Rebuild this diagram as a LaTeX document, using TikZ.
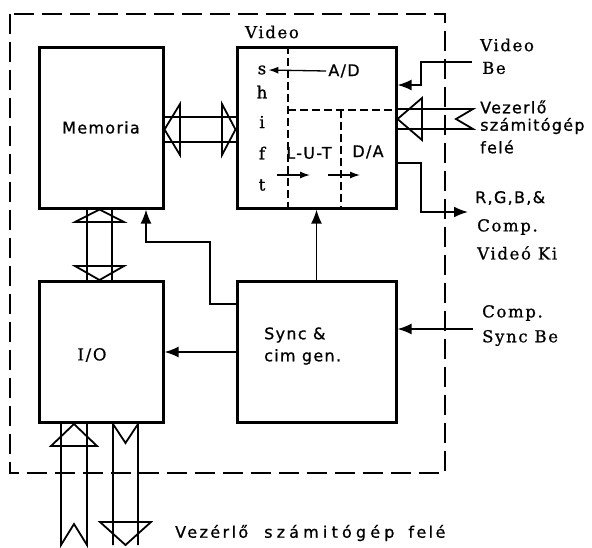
\documentclass[tikz,border=0pt]{standalone}
\usepackage{fontspec}
\usetikzlibrary{arrows.meta,calc}
\newfontfamily\lettering{DejaVu Sans}[LetterSpace=8, FakeBold=0.8]
\newfontfamily\wideletter{DejaVu Sans}[LetterSpace=15, FakeBold=0.8]
\newfontfamily\widerletter{DejaVu Sans}[LetterSpace=26, FakeBold=0.8]
\newfontfamily\printed{DejaVu Serif}[LetterSpace=10, FakeBold=0.8]

\begin{document}
\begin{tikzpicture}[
  x=1pt, y=-1pt,
  >={Latex[length=14pt,width=11pt]},
  every node/.style={font=\lettering\fontsize{16}{19}\selectfont, inner sep=2pt},
  serif/.style={font=\printed\fontsize{16.5}{19}\selectfont},
  block/.style={draw, line width=3pt, inner sep=0pt},
  sig/.style={->, line width=1.8pt},
  tiny/.style={-{Latex[length=10pt,width=7pt]}, line width=1.3pt},
  bus/.style={line width=1.8pt, line join=miter},
  frame/.style={line width=1.4pt, dash pattern=on 20pt off 8pt},
  inner/.style={line width=1.3pt, dash pattern=on 8pt off 4pt}
]
  \useasboundingbox (0,0) rectangle (592,547);

  % Outer dashed frame
  \draw[frame] (10,14) rectangle (445,473);

  % Blocks
  \node[block, minimum width=124pt, minimum height=161pt] (mem) at (101,127.5) {Memoria};
  \node[block, minimum width=159pt, minimum height=161pt] (vid) at (316.5,127.5) {};
  \node[block, minimum width=124pt, minimum height=141pt] (io) at (101,352) {};
  \node[block, minimum width=159pt, minimum height=141pt] (sync) at (316.5,352) {};
  \node[serif] (iotxt) at (92,355) {I/O};
  \node[anchor=west, align=left, font=\lettering\fontsize{16}{22}\selectfont] (synctxt) at (262,346) {Sync \&\\cim gen.};
  \node[serif] (vidlbl) at (272,32) {Video};

  % Inside the video block
  \draw[inner] (vid.north -| 288,0) -- (vid.south -| 288,0);
  \draw[inner] (288,110) -- (vid.east |- 0,110);
  \draw[inner] (341,110) -- (vid.south -| 341,0);
  \foreach \ch/\yy in {s/70, h/92, i/122, f/153, t/185}
    \node[serif] (l\ch) at (262,\yy) {\ch};
  \node (ad) at (344,71) {A/D};
  \node (lut) at (309,153) {L-U-T};
  \node (da) at (368,152) {D/A};
  \draw[tiny] (ad.west) -- (ls.east);
  \draw[tiny] (277,175) -- (310,175);
  \draw[tiny] (328,175) -- (360,175);

  % Memoria <-> Video bus
  \draw[bus] (mem.east |- 0,117) -- (vid.west |- 0,117)
             (mem.east |- 0,142) -- (vid.west |- 0,142);
  \draw[bus] (180,104) -- (mem.east |- 0,129.5) -- (180,155) -- cycle;
  \draw[bus] (222,104) -- (vid.west |- 0,129.5) -- (222,155) -- cycle;

  % Memoria <-> I/O bus
  \draw[bus] (mem.south -| 87,0) -- (io.north -| 87,0)
             (mem.south -| 112,0) -- (io.north -| 112,0);
  \draw[bus] (75,222) -- (mem.south -| 99.5,0) -- (124,222) -- cycle;
  \draw[bus] (75,266) -- (io.north -| 99.5,0) -- (124,266) -- cycle;

  % Host bus on the right
  \draw[bus] (vid.east |- 0,109) -- (473,109) -- (456,119) -- (473,129) -- (vid.east |- 0,129);
  \draw[bus] (422,98) -- (vid.east |- 0,119) -- (422,140) -- cycle;

  % Host buses below I/O
  \draw[bus] (io.south -| 61,0) -- (61,545) -- (74,524) -- (87,545) -- (io.south -| 87,0);
  \draw[bus] (51,446) -- (io.south -| 74,0) -- (97,446) -- cycle;
  \draw[bus] (113,545) -- (io.south -| 113,0) -- (125.5,443) -- (io.south -| 138,0) -- (138,545);
  \draw[bus] (100,522) -- (151,522) -- (125.5,545) -- cycle;

  % Signals from sync generator
  \draw[sig] (sync.north) -- (vid.south);
  \draw[sig] (sync.west) -- (io.east);
  \draw[sig] (sync.west |- 0,304) -| (210,242) -| (mem.south -| 146,0);

  % External signals
  \coordinate (vbe) at (472,62);
  \coordinate (rgb) at (468,212);
  \coordinate (csb) at (473,329);
  \draw[sig] (vbe) -| (421,85) -- (vid.east |- 0,85);
  \draw[sig] (vid.east |- 0,163) -| (421,212) -- (rgb);
  \draw[sig] (csb) -- (sync.east |- csb);

  % Labels on the right
  \node[serif, anchor=west] (vbe1) at (478,45) {Video};
  \node[serif, anchor=west] (vbe2) at (480,68) {Be};
  \node[anchor=west] (hst1) at (478,107) {Vezerlő};
  \node[anchor=west] (hst2) at (478,126) {számitógép};
  \node[anchor=west] (hst3) at (478,147) {felé};
  \node[anchor=west] (rgb1) at (473,198) {R,G,B,\&};
  \node[serif, anchor=west] (rgb2) at (475,227) {Comp.};
  \node[serif, anchor=west] (rgb3) at (475,253) {Videó Ki};
  \node[serif, anchor=west] (csb1) at (480,313) {Comp.};
  \node[serif, anchor=west] (csb2) at (480,338) {Sync Be};

  % Label below
  \node[font=\wideletter\fontsize{16}{19}\selectfont, anchor=west] (host) at (173,533)
    {Vezérlő\hspace{16pt}{\widerletter számitógép}\hspace{14pt}felé};
\end{tikzpicture}
\end{document}
